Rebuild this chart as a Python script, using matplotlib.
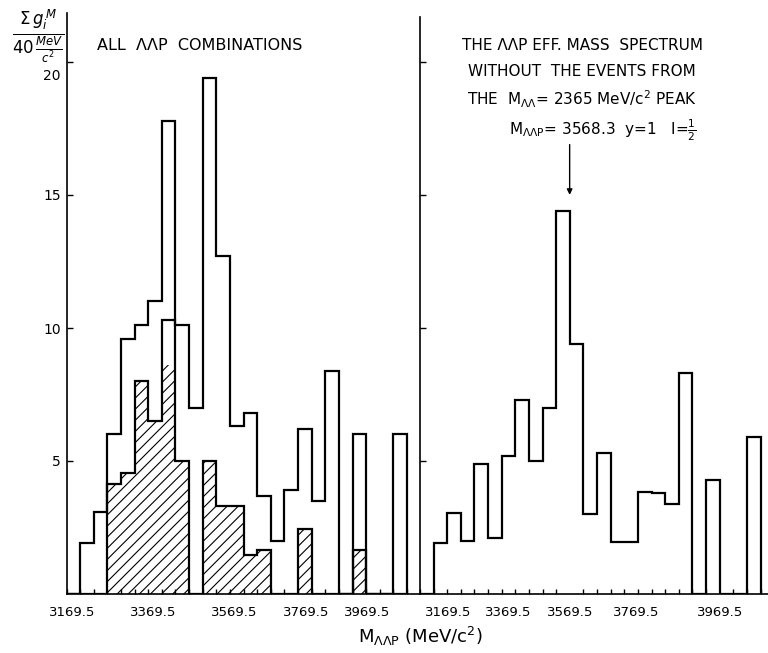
import matplotlib.pyplot as plt
from matplotlib.transforms import ScaledTranslation

plt.rcParams['font.family'] = ['DejaVu Sans']
plt.rcParams['hatch.linewidth'] = 0.8

# 40 MeV/c^2 bins
bin_lo = 3149.5
bin_w = 40

# left panel: all LLp combinations (outer line)
all_counts = [0, 1.9, 3.1, 6.0, 9.6, 10.1, 11.0, 17.8, 10.1, 7.0, 19.4, 12.7,
              6.3, 6.8, 3.7, 2.0, 3.9, 6.2, 3.5, 8.4, 0, 6.0, 0, 0, 6.0]
# left panel: inner line
inner_counts = [0, 0, 0, 4.15, 4.55, 8.0, 6.5, 10.3, 5.0, 0, 5.0, 3.3,
                3.3, 1.45, 1.65, 0, 0, 2.45, 0, 0, 0, 1.65, 0, 0, 0]
# left panel: hatched part
hatched_counts = [0, 0, 0, 4.15, 4.55, 8.0, 6.5, 8.6, 5.0, 0, 5.0, 3.3,
                  3.3, 1.45, 1.65, 0, 0, 2.45, 0, 0, 0, 1.65, 0, 0, 0]
# right panel: spectrum without the M_LL = 2365 peak events
no_peak_counts = [0, 1.9, 3.05, 2.0, 4.9, 2.1, 5.2, 7.3, 5.0, 7.0, 14.4, 9.4,
                  3.0, 5.3, 1.95, 1.95, 3.85, 3.8, 3.4, 8.3, 0, 4.3, 0, 0, 5.9]

x_labels = ['3169.5', '3369.5', '3569.5', '3769.5', '3969.5']
left_label_pos = [3165.5, 3403.5, 3641.5, 3853.5, 4033.5]
right_label_pos = [3233.5, 3409.5, 3589.5, 3785.5, 4029.5]
y_ticks = [5, 10, 15, 20]

n = len(all_counts)
edges = [bin_lo + i * bin_w for i in range(n + 1)]
centers = [bin_lo + (i + 0.5) * bin_w for i in range(n)]

fig = plt.figure(figsize=(7.68, 6.53), dpi=100)
ax1 = fig.add_axes([66.5 / 768, 59 / 653, 353.5 / 768, 581 / 653])
ax2 = fig.add_axes([420 / 768, 59 / 653, 348 / 768, 577 / 653])

lw = 1.6
ax1.bar(centers, hatched_counts, width=bin_w, color='none', edgecolor='k',
        hatch='///', linewidth=0)
ax1.stairs(inner_counts, edges, color='k', linewidth=lw)
ax1.stairs(all_counts, edges, color='k', linewidth=lw)
ax2.stairs(no_peak_counts, edges, color='k', linewidth=lw)

ax1.set_xlim(bin_lo, bin_lo + bin_w * 353.5 / 13.62)
ax2.set_xlim(bin_lo, bin_lo + bin_w * 348 / 13.62)
ax1.set_ylim(0, 581 / 26.6)
ax2.set_ylim(0, 577 / 26.6)

for ax, pos in ((ax1, left_label_pos), (ax2, right_label_pos)):
    for s in ('top', 'right'):
        ax.spines[s].set_visible(False)
    for s in ('left', 'bottom'):
        ax.spines[s].set_linewidth(1.2)
    ax.set_xticks(pos)
    ax.set_xticklabels(x_labels, fontsize=9.5)
    ax.set_xticks(edges, minor=True)
    ax.tick_params(axis='x', which='major', length=0, pad=9)
    ax.tick_params(axis='x', which='minor', direction='in', length=3.5, width=1)
    ax.set_yticks(y_ticks)
    ax.tick_params(axis='y', direction='in', length=4, width=1, pad=4, labelsize=10)

ax2.set_yticklabels([])
for lab in ax1.get_yticklabels():
    if lab.get_text() == '20':
        lab.set_transform(lab.get_transform() + ScaledTranslation(0, -0.13, fig.dpi_scale_trans))

# y label
fig.text(38 / 768, 1 - 36 / 653, r'$\frac{\Sigma\,g_i^{\,M}}{40\,\frac{MeV}{c^2}}$',
         fontsize=17, ha='center', va='center')

fig.text(97 / 768, 1 - 45 / 653, 'ALL  ΛΛP  COMBINATIONS', fontsize=11.5, va='center')

fig.text(582 / 768, 1 - 46 / 653, 'THE ΛΛP EFF. MASS  SPECTRUM', fontsize=11, ha='center', va='center')
fig.text(582 / 768, 1 - 71 / 653, 'WITHOUT  THE EVENTS FROM', fontsize=11, ha='center', va='center')
fig.text(582 / 768, 1 - 99 / 653, r'THE  M$_{\Lambda\Lambda}$= 2365 MeV/c$^2$ PEAK',
         fontsize=11, ha='center', va='center')
fig.text(603 / 768, 1 - 130 / 653,
         r'M$_{\Lambda\Lambda\mathrm{P}}$= 3568.3  y=1   I=$\frac{1}{2}$',
         fontsize=11, ha='center', va='center')

arrow_x = 3589
ax2.annotate('', xy=(arrow_x, 14.9), xytext=(arrow_x, 17.0),
             arrowprops=dict(arrowstyle='-|>', lw=1, color='k', mutation_scale=8))

fig.text(420 / 768, 1 - 636 / 653, r'M$_{\Lambda\Lambda\mathrm{P}}$ (MeV/c$^2$)',
         fontsize=13, ha='center', va='center')

fig.savefig('out.png', dpi=100)
